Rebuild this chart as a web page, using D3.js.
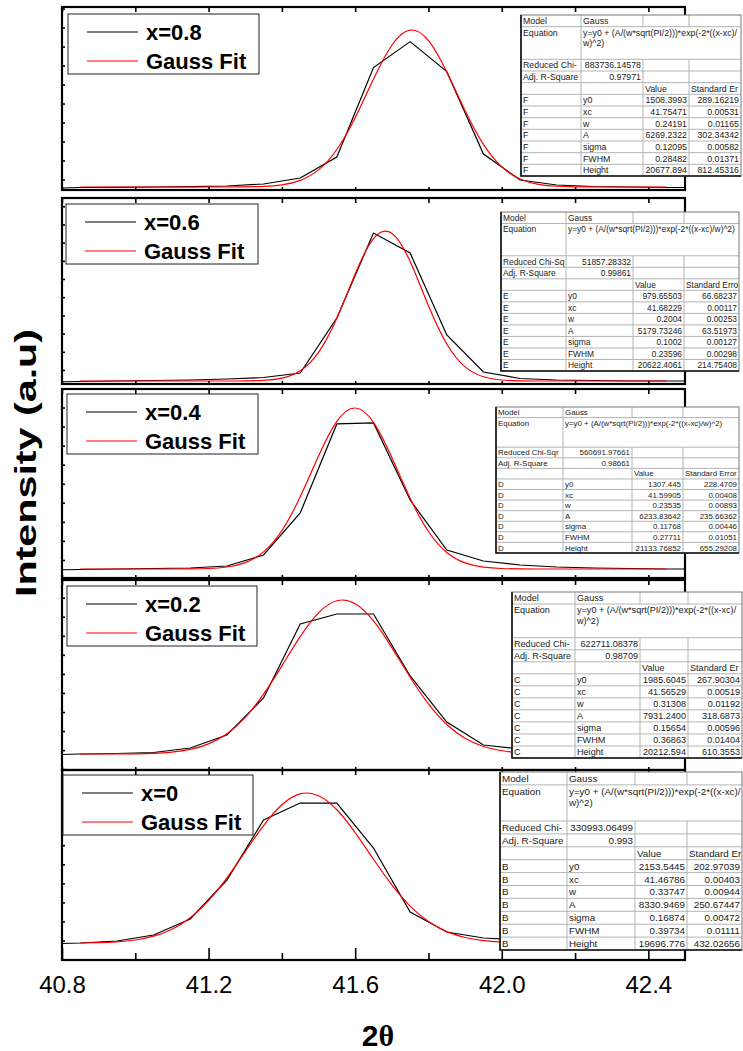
<!DOCTYPE html>
<html><head><meta charset="utf-8">
<script src="https://cdn.jsdelivr.net/npm/d3@7"></script>
<style>
body{margin:0;background:#fff;}
svg{display:block;font-family:"Liberation Sans",Arial,sans-serif;}
</style>
</head><body>
<svg id="c" width="743" height="1051"></svg>
<script>
// ---------------- data ----------------
const xTicks = [40.8, 41.2, 41.6, 42.0, 42.4];
const xTickLabels = ["40.8", "41.2", "41.6", "42.0", "42.4"];
const xMinorTicks = [41.0, 41.4, 41.8, 42.2];
const seriesLabels = ["x=0.8", "x=0.6", "x=0.4", "x=0.2", "x=0"];
const fitLabel = "Gauss Fit";
const xTitle = "2";
const xTitleGreek = "θ";
const yTitle = "Intensity (a.u)";

// measured points (2θ)
const dataX = [40.75, 40.85, 40.95, 41.05, 41.15, 41.25, 41.35, 41.45, 41.55, 41.65,
               41.75, 41.85, 41.95, 42.05, 42.15, 42.25, 42.35, 42.45, 42.55];
const data08 = [1310, 1442, 1468, 1508, 1548, 1640, 1903, 2693, 5458, 17229,
                20653, 16702, 5853, 2430, 1771, 1574, 1508, 1442, 1442];
const data06 = [842, 911, 980, 1049, 1118, 1255, 1461, 2080, 9642, 21330,
                18580, 7305, 2218, 1324, 1118, 1049, 980, 980, 980];
const data04 = [1176, 1241, 1307, 1373, 1438, 1701, 3145, 8660, 20346, 20477,
                10367, 3802, 2357, 1832, 1570, 1438, 1373, 1307, 1307];
const data02 = [1855, 1986, 2052, 2183, 2774, 4480, 9336, 19049, 20361, 20361,
                12224, 6186, 3167, 2642, 2380, 2249, 2117, 2117, 2117];
const data00 = [2047, 2178, 2440, 3227, 5324, 10437, 18303, 20532, 20532, 14632,
                6242, 3620, 2834, 2571, 2440, 2309, 2309, 2178, 2178];

// Gauss fit curves
const fitX = [40.85, 40.90, 40.95, 41.00, 41.05, 41.10, 41.15, 41.20, 41.25, 41.30,
              41.35, 41.40, 41.45, 41.50, 41.55, 41.60, 41.65, 41.70, 41.75, 41.80,
              41.85, 41.90, 41.95, 42.00, 42.05, 42.10, 42.15, 42.20, 42.25, 42.30,
              42.35, 42.40, 42.45];
const fit08 = [1508, 1508, 1508, 1508, 1508, 1508, 1508, 1508, 1511, 1526,
               1585, 1789, 2374, 3760, 6446, 10635, 15726, 20176, 22170, 20786,
               16667, 11558, 7124, 4153, 2558, 1860, 1607, 1532, 1513, 1509,
               1508, 1508, 1508];
const fit06 = [980, 980, 980, 980, 980, 980, 980, 980, 980, 994,
               1064, 1369, 2384, 4921, 9604, 15698, 20559, 21283, 17394, 11324,
               6063, 2926, 1561, 1115, 1004, 983, 980, 980, 980, 980,
               980, 980, 980];
const fit04 = [1307, 1307, 1307, 1307, 1307, 1310, 1322, 1375, 1567, 2143,
               3556, 6358, 10777, 16130, 20678, 22441, 20553, 15940, 10595, 6227,
               3484, 2111, 1555, 1371, 1321, 1310, 1307, 1307, 1307, 1307,
               1307, 1307, 1307];
const fit02 = [1986, 1988, 1995, 2015, 2075, 2229, 2584, 3314, 4644, 6793,
               9837, 13560, 17396, 20515, 22102, 21708, 19446, 15945, 12062, 8555,
               5853, 4042, 2972, 2414, 2153, 2045, 2004, 1991, 1987, 1986,
               1986, 1986, 1986];
const fit00 = [2178, 2222, 2331, 2575, 3071, 3983, 5493, 7738, 10710, 14159,
               17584, 20318, 21740, 21498, 19653, 16651, 13157, 9802, 7023, 4994,
               3670, 2896, 2486, 2290, 2205, 2171, 2159, 2155, 2154, 2154,
               2154, 2154, 2154];

// fit parameter tables
const tableLetters = ["F", "E", "D", "C", "B"];
const modelName = "Gauss";
const eqFull = "y=y0 + (A/(w*sqrt(PI/2)))*exp(-2*((x-xc)/w)^2)";
const eqSplit = ["y=y0 + (A/(w*sqrt(PI/2)))*exp(-2*((x-xc)/", "w)^2)"];
const eqWrapped = [true, false, false, true, true];
const reducedLabels = ["Reduced Chi-", "Reduced Chi-Sq", "Reduced Chi-Sqr", "Reduced Chi-", "Reduced Chi-"];
const reducedChi = ["883736.14578", "51857.28332", "560691.97661", "622711.08378", "330993.06499"];
const adjR2 = ["0.97971", "0.99861", "0.98661", "0.98709", "0.993"];
const stdErrLabels = ["Standard Er", "Standard Erro", "Standard Error", "Standard Er", "Standard Er"];
const paramNames = ["y0", "xc", "w", "A", "sigma", "FWHM", "Height"];
const paramValues = [
  ["1508.3993", "41.75471", "0.24191", "6269.2322", "0.12095", "0.28482", "20677.894"],
  ["979.65503", "41.68229", "0.2004", "5179.73246", "0.1002", "0.23596", "20622.4061"],
  ["1307.445", "41.59905", "0.23535", "6233.83642", "0.11768", "0.27711", "21133.76852"],
  ["1985.6045", "41.56529", "0.31308", "7931.2400", "0.15654", "0.36863", "20212.594"],
  ["2153.5445", "41.46786", "0.33747", "8330.9469", "0.16874", "0.39734", "19696.776"]
];
const paramErrors = [
  ["289.16219", "0.00531", "0.01165", "302.34342", "0.00582", "0.01371", "812.45316"],
  ["66.68237", "0.00117", "0.00253", "63.51973", "0.00127", "0.00298", "214.75408"],
  ["228.4709", "0.00408", "0.00893", "235.66362", "0.00446", "0.01051", "655.29208"],
  ["267.90304", "0.00519", "0.01192", "318.6873", "0.00596", "0.01404", "610.3553"],
  ["202.97039", "0.00403", "0.00944", "250.67447", "0.00472", "0.01111", "432.02656"]
];

// ---------------- layout ----------------
const seriesData = [data08, data06, data04, data02, data00];
const fitData = [fit08, fit06, fit04, fit02, fit00];
const panelLayout = [
  {top: 7,   bottom: 190, dom: [1113, 25214], leg: [68, 14, 191]},
  {top: 198, bottom: 384, dom: [568, 26138],  leg: [66, 204, 192]},
  {top: 389, bottom: 578, dom: [126, 24935],  leg: [67, 394, 191]},
  {top: 580, bottom: 770, dom: [-114, 24824], leg: [67, 586, 190]},
  {top: 770, bottom: 960, dom: [-52, 24867],  leg: [63, 775, 190]}
];
const tableLayout = [
  {cols: [521, 581, 643, 689, 741], top: 15,  bottom: 176, fs: 8.8},
  {cols: [501, 566, 633, 684, 739], top: 212, bottom: 371, fs: 8.4},
  {cols: [496, 563, 632, 683, 739], top: 407, bottom: 553, fs: 7.9},
  {cols: [512, 575, 640, 688, 742], top: 592, bottom: 758, fs: 9.1},
  {cols: [500, 567, 635, 687, 742], top: 772, bottom: 950, fs: 9.8}
];
const plotLeft = 62, plotRight = 685;

const svg = d3.select("#c");
const x = d3.scaleLinear().domain([40.8, 42.5]).range([plotLeft, plotRight]);
const allTicks = xTicks.concat(xMinorTicks).sort((a, b) => a - b);
const defs = svg.append("defs");

panelLayout.forEach((p, i) => {
  const y = d3.scaleLinear().domain(p.dom).range([p.bottom, p.top]);
  const g = svg.append("g");
  defs.append("clipPath").attr("id", "clip" + i).append("rect")
    .attr("x", plotLeft).attr("y", p.top).attr("width", plotRight - plotLeft).attr("height", p.bottom - p.top);

  const pts = dataX.map((v, k) => [v, seriesData[i][k]]);
  const fpts = fitX.map((v, k) => [v, fitData[i][k]]);
  const lineLin = d3.line().x(d => x(d[0])).y(d => y(d[1]));
  const lineFit = d3.line().x(d => x(d[0])).y(d => y(d[1])).curve(d3.curveNatural);
  const cg = g.append("g").attr("clip-path", `url(#clip${i})`);
  cg.append("path").attr("d", lineLin(pts)).attr("fill", "none").attr("stroke", "#000").attr("stroke-width", 1.2);
  cg.append("path").attr("d", lineFit(fpts)).attr("fill", "none").attr("stroke", "#ff0000").attr("stroke-width", 1.2);

  // top ticks
  const topAx = d3.axisTop(x).tickValues(allTicks).tickSize(-5).tickFormat("");
  g.append("g").attr("transform", `translate(0,${p.top})`).call(topAx).call(s => s.select(".domain").remove());
  // left ticks
  const lt = d3.range(Math.ceil(p.dom[0] / 2500) * 2500, p.dom[1], 2500);
  g.append("g").attr("transform", `translate(${plotLeft},0)`)
    .call(d3.axisLeft(y).tickValues(lt).tickSize(-3).tickFormat(""))
    .call(s => s.select(".domain").remove());
  // bottom ticks
  if (i < 4) {
    g.append("g").attr("transform", `translate(0,${p.bottom})`)
      .call(d3.axisBottom(x).tickValues(allTicks).tickSize(-3).tickFormat(""))
      .call(s => s.select(".domain").remove());
  } else {
    g.append("g").attr("transform", `translate(0,${p.bottom})`)
      .call(d3.axisBottom(x).tickValues(xMinorTicks).tickSize(-7).tickFormat(""))
      .call(s => s.select(".domain").remove());
    const ax = g.append("g").attr("transform", `translate(0,${p.bottom})`)
      .call(d3.axisBottom(x).tickValues(xTicks).tickSize(-12).tickPadding(16)
        .tickFormat((d, k) => xTickLabels[k]));
    ax.select(".domain").remove();
    ax.selectAll("text").attr("font-size", 24).attr("fill", "#000")
      .attr("font-family", "'Liberation Sans', Arial, sans-serif");
  }
  g.selectAll(".tick line").attr("stroke", "#000").attr("stroke-width", 1.6);

  // frame
  g.append("rect").attr("x", plotLeft).attr("y", p.top)
    .attr("width", plotRight - plotLeft).attr("height", p.bottom - p.top)
    .attr("fill", "none").attr("stroke", "#000").attr("stroke-width", 2.2);

  // legend
  const [lx, ly, lw] = p.leg;
  const lg = g.append("g");
  lg.append("rect").attr("x", lx).attr("y", ly).attr("width", lw).attr("height", 60)
    .attr("fill", "#fff").attr("stroke", "#222").attr("stroke-width", 1);
  const entries = [[seriesLabels[i], "#000"], [fitLabel, "#ff0000"]];
  entries.forEach((e, k) => {
    const yy = ly + 18 + k * 29;
    lg.append("line").attr("x1", lx + 19).attr("x2", lx + 70).attr("y1", yy).attr("y2", yy)
      .attr("stroke", e[1]).attr("stroke-width", 1.2);
    lg.append("text").attr("x", lx + 78).attr("y", yy + 8).text(e[0])
      .attr("font-size", 22).attr("font-weight", "bold").attr("fill", "#000");
  });
});

// ---------------- tables ----------------
tableLayout.forEach((t, i) => {
  const g = svg.append("g");
  const unit = (t.bottom - t.top) / 13.8;
  const rowH = [1, 2.8, 1, 1, 1, 1, 1, 1, 1, 1, 1, 1].map(v => v * unit);
  const rowY = [t.top];
  rowH.forEach((h, k) => rowY.push(rowY[k] + h));
  const c = t.cols;
  const fs = t.fs;
  const gray = "#b4b4b4";
  g.append("rect").attr("x", c[0]).attr("y", t.top).attr("width", c[4] - c[0]).attr("height", t.bottom - t.top)
    .attr("fill", "#fff");
  // horizontal lines
  rowY.slice(1, -1).forEach(yy => {
    g.append("line").attr("x1", c[0]).attr("x2", c[4]).attr("y1", yy).attr("y2", yy)
      .attr("stroke", gray).attr("stroke-width", 1);
  });
  // vertical lines (equation row spans columns 2-4)
  [1, 2, 3].forEach(ci => {
    [[0, 1], [2, 12]].forEach(([r0, r1]) => {
      g.append("line").attr("x1", c[ci]).attr("x2", c[ci]).attr("y1", rowY[r0]).attr("y2", rowY[r1])
        .attr("stroke", gray).attr("stroke-width", 1);
    });
  });
  g.append("line").attr("x1", c[1]).attr("x2", c[1]).attr("y1", rowY[1]).attr("y2", rowY[2])
    .attr("stroke", gray).attr("stroke-width", 1);
  // outer border
  g.append("rect").attr("x", c[0]).attr("y", t.top).attr("width", c[4] - c[0]).attr("height", t.bottom - t.top)
    .attr("fill", "none").attr("stroke", "#777").attr("stroke-width", 1);
  g.append("path").attr("d", `M${c[0]},${t.top}V${t.bottom}H${c[4]}`)
    .attr("fill", "none").attr("stroke", "#111").attr("stroke-width", 1.6);

  const txt = (xx, yy, s, anchor) => g.append("text").attr("x", xx).attr("y", yy).text(s)
    .attr("font-size", fs).attr("fill", "#1a1a1a").attr("text-anchor", anchor || "start");
  const base = k => rowY[k] + unit * 0.5 + fs * 0.36;
  const L = ci => c[ci] + 2, R = ci => c[ci + 1] - 2;
  txt(L(0), base(0), "Model");
  txt(L(1), base(0), modelName);
  txt(L(0), base(1), "Equation");
  if (eqWrapped[i]) {
    txt(L(1), base(1), eqSplit[0]);
    txt(L(1), base(1) + fs * 1.15, eqSplit[1]);
  } else {
    txt(L(1), base(1), eqFull);
  }
  txt(L(0), base(2), reducedLabels[i]);
  txt(R(1), base(2), reducedChi[i], "end");
  txt(L(0), base(3), "Adj. R-Square");
  txt(R(1), base(3), adjR2[i], "end");
  txt(L(2), base(4), "Value");
  txt(L(3), base(4), stdErrLabels[i]);
  paramNames.forEach((pn, k) => {
    const r = 5 + k;
    txt(L(0), base(r), tableLetters[i]);
    txt(L(1), base(r), pn);
    txt(R(2), base(r), paramValues[i][k], "end");
    txt(R(3), base(r), paramErrors[i][k], "end");
  });
});

// ---------------- axis titles ----------------
svg.append("text").attr("transform", "translate(36,463) rotate(-90)")
  .attr("text-anchor", "middle").attr("font-size", 30).attr("font-weight", "bold")
  .attr("textLength", 268).attr("lengthAdjust", "spacingAndGlyphs").text(yTitle);
const xt = svg.append("text").attr("x", 378).attr("y", 1046).attr("text-anchor", "middle")
  .attr("font-size", 30).attr("font-weight", "bold");
xt.append("tspan").text(xTitle);
xt.append("tspan").attr("font-family", "'Liberation Serif', 'Times New Roman', serif").text(xTitleGreek);
</script>
</body></html>
